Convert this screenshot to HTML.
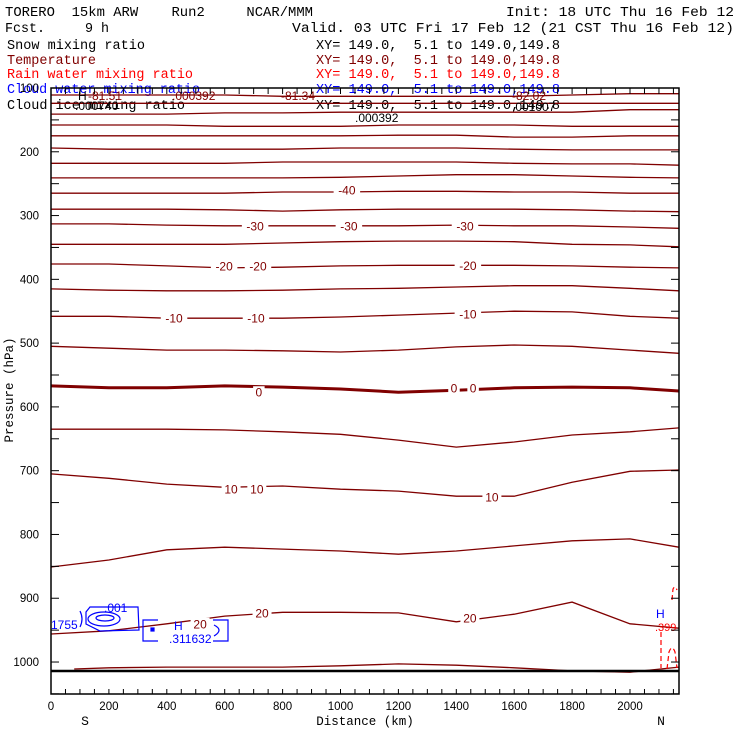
<!DOCTYPE html>
<html><head><meta charset="utf-8"><style>
html,body{margin:0;padding:0;background:#fff;}
svg{display:block;font-family:"Liberation Mono",monospace;}
</style></head><body>
<svg id="chart" width="740" height="740" viewBox="0 0 740 740" xmlns="http://www.w3.org/2000/svg">
<rect width="740" height="740" fill="#fff"/>
<g font-size="13.5">
<text x="5" y="16" textLength="308" lengthAdjust="spacingAndGlyphs" xml:space="preserve">TORERO  15km ARW    Run2     NCAR/MMM</text>
<text x="506" y="16" textLength="228" lengthAdjust="spacingAndGlyphs">Init: 18 UTC Thu 16 Feb 12</text>
<text x="5" y="32" textLength="104" lengthAdjust="spacingAndGlyphs" xml:space="preserve">Fcst.     9 h</text>
<text x="292" y="32" textLength="442" lengthAdjust="spacingAndGlyphs">Valid. 03 UTC Fri 17 Feb 12 (21 CST Thu 16 Feb 12)</text>
<text x="7" y="49" textLength="138" lengthAdjust="spacingAndGlyphs">Snow mixing ratio</text>
<text x="316" y="49" textLength="244" lengthAdjust="spacingAndGlyphs" xml:space="preserve">XY= 149.0,  5.1 to 149.0,149.8</text>
<text x="7" y="64" fill="#800000" textLength="89" lengthAdjust="spacingAndGlyphs">Temperature</text>
<text x="316" y="64" fill="#800000" textLength="244" lengthAdjust="spacingAndGlyphs" xml:space="preserve">XY= 149.0,  5.1 to 149.0,149.8</text>
<text x="7" y="78" fill="#ff0000" textLength="186" lengthAdjust="spacingAndGlyphs">Rain water mixing ratio</text>
<text x="316" y="78" fill="#ff0000" textLength="244" lengthAdjust="spacingAndGlyphs" xml:space="preserve">XY= 149.0,  5.1 to 149.0,149.8</text>
<text x="7" y="93" fill="#0000ff" textLength="193" lengthAdjust="spacingAndGlyphs">Cloud water mixing ratio</text>
<text x="316" y="93" fill="#0000ff" textLength="244" lengthAdjust="spacingAndGlyphs" xml:space="preserve">XY= 149.0,  5.1 to 149.0,149.8</text>
<text x="7" y="109" textLength="178" lengthAdjust="spacingAndGlyphs">Cloud ice mixing ratio</text>
<text x="316" y="109" textLength="244" lengthAdjust="spacingAndGlyphs" xml:space="preserve">XY= 149.0,  5.1 to 149.0,149.8</text>
</g>
<g id="plot"></g>
</svg>
<script>
// ---- data ----
const distances = [0,200,400,600,800,1000,1200,1400,1600,1800,2000,2169];
const tempLevels = [-80,-75,-70,-65,-60,-55,-50,-45,-40,-35,-30,-25,-20,-15,-10,-5,0,5,10,15,20,25];
const p_m80 = [111,111,111,111,113,113,113,113,113,111,109,109];
const p_m75 = [124,124,124,124,124,124,124,124,124,124,124,124];
const p_m70 = [141,141,141,139,139,138,138,138,138,138,134,134];
const p_m65 = [158,158,158,160,160,160,158,158,158,160,160,160];
const p_m60 = [175,175,175,175,175,175,174,174,177,177,175,175];
const p_m55 = [194,196,196,196,196,194,194,194,196,197,197,197];
const p_m50 = [218,218,218,218,216,216,216,216,218,219,219,221];
const p_m45 = [241,241,241,241,241,240,238,236,236,238,240,241];
const p_m40 = [265,265,265,265,263,263,262,262,263,263,265,265];
const p_m35 = [290,290,290,291,293,291,290,290,290,291,293,294];
const p_m30 = [313,313,315,316,316,316,316,315,316,316,318,320];
const p_m25 = [345,345,345,345,343,341,340,340,341,345,346,349];
const p_m20 = [376,376,379,382,381,379,378,378,378,379,381,382];
const p_m15 = [415,417,418,418,417,415,414,412,410,410,414,418];
const p_m10 = [458,458,461,461,461,459,456,453,450,451,458,461];
const p_m5  = [505,508,511,511,512,514,511,506,503,505,511,516];
const p_0   = [567,570,570,567,569,572,577,574,570,569,570,575];
const p_5   = [635,635,635,636,639,643,652,663,655,644,639,633];
const p_10  = [705,712,721,726,724,729,732,740,740,718,701,699];
const p_15  = [851,840,824,820,823,826,831,826,818,810,807,820];
const p_20  = [956,951,940,928,922,922,923,937,925,906,940,947];
const p_25  = [null,1009,1008,1008,1008,1006,1003,1005,1009,1014,1016,1008];
const levelPressures = [p_m80,p_m75,p_m70,p_m65,p_m60,p_m55,p_m50,p_m45,p_m40,p_m35,p_m30,p_m25,p_m20,p_m15,p_m10,p_m5,p_0,p_5,p_10,p_15,p_20,p_25];
const labelTemps = [-40,-30,-30,-30,-20,-20,-20,-10,-10,-10,0,0,0,10,10,10,20,20,20];
const labelKm    = [1022,705,1029,1430,598,715,1440,425,708,1440,718,1392,1458,622,711,1523,515,729,1447];
const labelHpa   = [260,316,316,316,379,379,378,461,461,454,577,570,570,729,729,741,940,923,931];
const surfaceHpa = 1014;
const xTicks = [0,200,400,600,800,1000,1200,1400,1600,1800,2000];
const yTicks = [100,200,300,400,500,600,700,800,900,1000];

// ---- scales ----
const X0=51, X1=679, Y0=88, Y1=694;
function xS(km){return X0 + km*0.2895;}
function yS(p){return Y0 + (p-100)*0.6378;}
const NS="http://www.w3.org/2000/svg";
const plot=document.getElementById('plot');
function mk(tag,attrs,parent){const e=document.createElementNS(NS,tag);for(const k in attrs)e.setAttribute(k,attrs[k]);(parent||plot).appendChild(e);return e;}

// isotherms
levelPressures.forEach((arr,i)=>{
  const pts=[];
  arr.forEach((p,j)=>{ if(p!==null) pts.push(xS(distances[j]).toFixed(1)+','+yS(p).toFixed(1)); });
  if(arr[0]===null) pts.unshift(xS(80).toFixed(1)+','+yS(arr[1]+2).toFixed(1));
  const pl=mk('polyline',{points:pts.join(' '),fill:'none',stroke:'#800000','stroke-width':tempLevels[i]===0?3:1.3});
  
  
});
// labels
labelTemps.forEach((t,i)=>{
  const x=xS(labelKm[i]), y=yS(labelHpa[i]);
  const s=String(t);
  const w=s.length*7.5+4;
  const r=mk('rect',{x:x-w/2,y:y-6,width:w,height:12,fill:'#fff'});
  
  
  const tx=mk('text',{x:x,y:y+4.5,'text-anchor':'middle','font-size':12,fill:'#800000','font-family':'Liberation Sans, sans-serif'});
  tx.textContent=s;
  
  
});
// surface line
const sl=mk('line',{x1:X0,x2:X1,y1:yS(surfaceHpa),y2:yS(surfaceHpa),stroke:'#000','stroke-width':2.5});



// cloud water contours (blue)
const cw=mk('g',{fill:'none',stroke:'#0000ff','stroke-width':1.2});


mk('path',{d:'M90,607 L138,607 L139,630 L100,631 L86,624 L86,612 Z'},cw);
mk('ellipse',{cx:104,cy:619,rx:16,ry:7},cw);
mk('ellipse',{cx:105,cy:618,rx:9,ry:3},cw);
mk('path',{d:'M80,611 Q84,619 80,627'},cw);
mk('path',{d:'M158,620 L143,620 L143,641 L158,641'},cw);
mk('path',{d:'M213,620 L228,620 L228,641 L213,641 M214,625 Q224,630 214,636'},cw);
mk('rect',{x:151,y:628,width:3,height:3,fill:'#0000ff'},cw);
const bl=[['1755',51,629],['.001',104,612],['H',174,630],['.311632',169,643],['H',656,618]];
bl.forEach(b=>{const t=mk('text',{x:b[1],y:b[2],fill:'#0000ff',stroke:'none','font-size':12,'font-family':'Liberation Sans, sans-serif'});t.textContent=b[0];
});
// rain (red dashed)
const rw=mk('g',{fill:'none',stroke:'#ff0000','stroke-width':1.2,'stroke-dasharray':'5,3'});


mk('path',{d:'M661,632 L661,668'},rw);
mk('path',{d:'M667,669 L669,652 Q672,644 675,652 L677,668'},rw);
mk('path',{d:'M672,600 L673,589 Q675,585 677,590'},rw);
const rt=mk('text',{x:655,y:631,fill:'#ff0000','font-size':11,'font-family':'Liberation Sans, sans-serif'});rt.textContent='.399';


// top extreme labels
const tl=[['H',78,100,'#000'],['-81.51',88,100,'#800000'],['-81.34',281,100,'#800000'],['-82.02',512,100,'#800000'],['.000392',172,100,'#800000'],['.000740',75,110,'#000'],['.000392',355,122,'#000'],['.001007',512,111,'#000']];
tl.forEach(b=>{const t=mk('text',{x:b[1],y:b[2],fill:b[3],'font-size':12,'font-family':'Liberation Sans, sans-serif'});t.textContent=b[0];
});

// frame
const fr=mk('rect',{x:X0,y:Y0,width:X1-X0,height:Y1-Y0,fill:'none',stroke:'#000','stroke-width':1.5});


// ticks
for(let km=0;km<=2150;km+=50){
  const x=xS(km);
  const a=mk('line',{x1:x,x2:x,y1:Y1,y2:Y1-5,stroke:'#000','stroke-width':1});
  
  const b=mk('line',{x1:x,x2:x,y1:Y0,y2:Y0+6,stroke:'#000','stroke-width':1});
  
}
for(let p=100;p<=1050;p+=50){
  const y=yS(p);
  const a=mk('line',{x1:X0,x2:X0+8,y1:y,y2:y,stroke:'#000','stroke-width':1});
  
  const b=mk('line',{x1:X1-8,x2:X1,y1:y,y2:y,stroke:'#000','stroke-width':1});
  
}
xTicks.forEach(v=>{const t=mk('text',{x:xS(v),y:710,'text-anchor':'middle','font-size':11.5,'font-family':'Liberation Sans, sans-serif'});t.textContent=v;
});
yTicks.forEach(v=>{const t=mk('text',{x:39,y:yS(v)+4,'text-anchor':'end','font-size':11.5,'font-family':'Liberation Sans, sans-serif'});t.textContent=v;
});
// axis titles
const xt=mk('text',{x:365,y:725,'text-anchor':'middle','font-size':12.5});xt.textContent='Distance (km)';

const sS=mk('text',{x:85,y:725,'text-anchor':'middle','font-size':13});sS.textContent='S';

const sN=mk('text',{x:661,y:725,'text-anchor':'middle','font-size':13});sN.textContent='N';

const yt=mk('text',{x:0,y:0,'text-anchor':'middle','font-size':12.5,transform:'translate(13,390) rotate(-90)'});yt.textContent='Pressure (hPa)';

</script>
</body></html>
